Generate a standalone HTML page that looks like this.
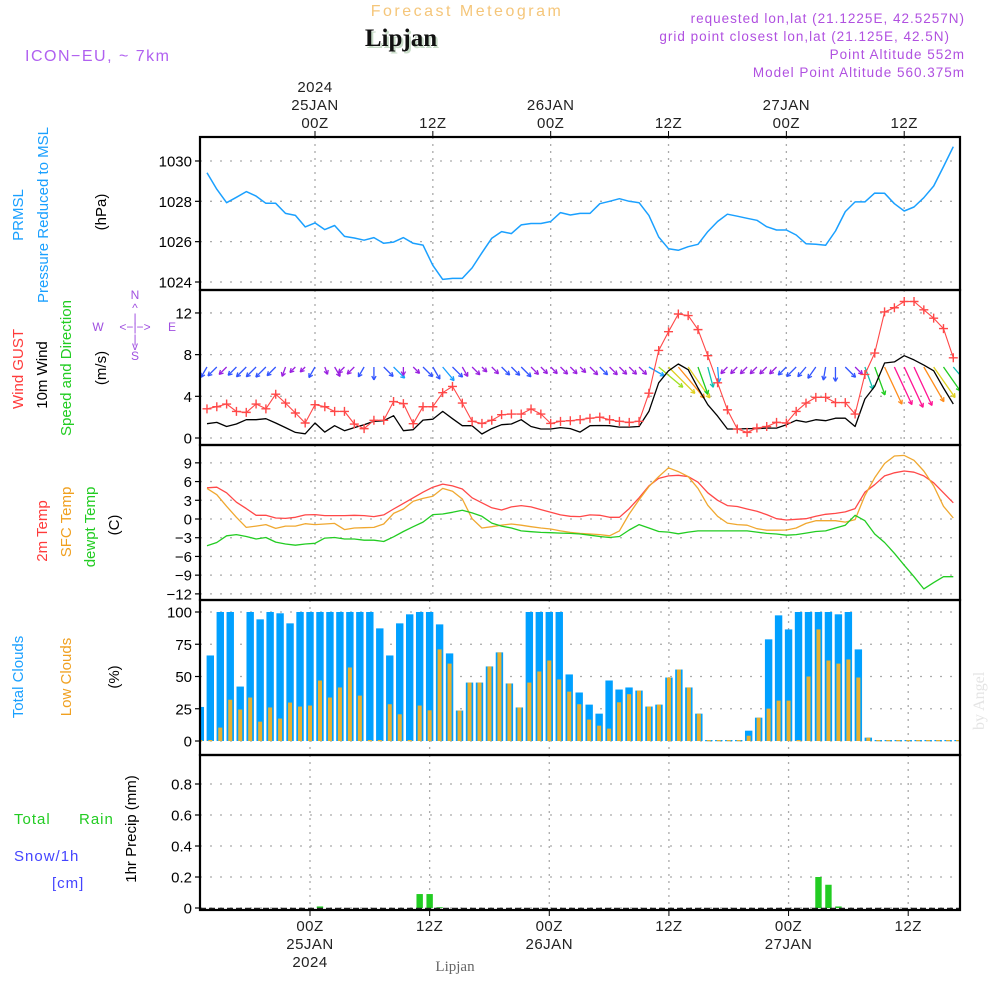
<!DOCTYPE html>
<html><head><meta charset="utf-8"><style>
body{margin:0;background:#fff;}
svg{display:block;font-family:"Liberation Sans",sans-serif;}
</style></head><body>
<svg id="chart" width="1000" height="1000" viewBox="0 0 1000 1000" xmlns="http://www.w3.org/2000/svg">
<defs><clipPath id="plotclip"><rect x="200" y="137" width="760" height="773"/></clipPath></defs>
<rect width="1000" height="1000" fill="#fff"/>
<text x="467" y="16" text-anchor="middle" font-size="16" letter-spacing="2.5" fill="#f5c67a">Forecast Meteogram</text>
<text x="403" y="48" text-anchor="middle" font-family="Liberation Serif,serif" font-weight="bold" font-size="25" fill="#c8dcc8">Lipjan</text>
<text x="401" y="46" text-anchor="middle" font-family="Liberation Serif,serif" font-weight="bold" font-size="25" fill="#111">Lipjan</text>
<text x="25" y="61" font-size="16" letter-spacing="1.5" fill="#b060f0">ICON−EU, ~ 7km</text>
<g font-size="13.5" letter-spacing="1" fill="#b050e0" text-anchor="end">
<text x="965" y="23">requested lon,lat (21.1225E, 42.5257N)</text>
<text x="950" y="41">grid point closest lon,lat (21.125E, 42.5N)</text>
<text x="965" y="59">Point Altitude 552m</text>
<text x="965" y="77">Model Point Altitude 560.375m</text>
</g>
<text transform="translate(984,730) rotate(-90)" font-family="Liberation Serif,serif" font-size="16" fill="#e4e4e4">by Angel</text>
<text x="455" y="971" text-anchor="middle" font-family="Liberation Serif,serif" font-size="15" fill="#666">Lipjan</text>

<g font-size="15">
<text transform="translate(23,215) rotate(-90)" text-anchor="middle" fill="#1aa0ff">PRMSL</text>
<text transform="translate(48,215) rotate(-90)" text-anchor="middle" fill="#1aa0ff">Pressure Reduced to MSL</text>
<text transform="translate(106,212) rotate(-90)" text-anchor="middle" fill="#000">(hPa)</text>
<text transform="translate(23,369) rotate(-90)" text-anchor="middle" fill="#ff3b3b">Wind GUST</text>
<text transform="translate(47,375) rotate(-90)" text-anchor="middle" fill="#000">10m Wind</text>
<text transform="translate(71,368) rotate(-90)" text-anchor="middle" fill="#22cc22">Speed and Direction</text>
<text transform="translate(106,368) rotate(-90)" text-anchor="middle" fill="#000">(m/s)</text>
<g fill="#a050e0" font-size="12" text-anchor="middle">
<text x="135" y="299">N</text><text x="135" y="312">^</text><text x="135" y="322">|</text>
<text x="98" y="331">W</text><text x="135" y="331">&lt;−|−&gt;</text><text x="172" y="331">E</text>
<text x="135" y="343">|</text><text x="135" y="350">v</text><text x="135" y="360">S</text>
</g>
<text transform="translate(47,531) rotate(-90)" text-anchor="middle" fill="#ff3b3b">2m Temp</text>
<text transform="translate(71,522) rotate(-90)" text-anchor="middle" fill="#f0a020">SFC Temp</text>
<text transform="translate(95,527) rotate(-90)" text-anchor="middle" fill="#22cc22">dewpt Temp</text>
<text transform="translate(119,525) rotate(-90)" text-anchor="middle" fill="#000">(C)</text>
<text transform="translate(23,677) rotate(-90)" text-anchor="middle" fill="#1aa0ff">Total Clouds</text>
<text transform="translate(71,677) rotate(-90)" text-anchor="middle" fill="#f0a020">Low Clouds</text>
<text transform="translate(119,677) rotate(-90)" text-anchor="middle" fill="#000">(%)</text>
<text transform="translate(136,829) rotate(-90)" text-anchor="middle" fill="#000">1hr Precip (mm)</text>
<text x="14" y="824" fill="#22cc22" letter-spacing="1">Total</text>
<text x="79" y="824" fill="#22cc22" letter-spacing="1">Rain</text>
<text x="14" y="861" fill="#4444ff" letter-spacing="1">Snow/1h</text>
<text x="52" y="888" fill="#4444ff" letter-spacing="1">[cm]</text>
</g>
<g id="grid"></g>
<g id="marks" clip-path="url(#plotclip)"></g>
<g id="axes"></g>
</svg>
<script>
// hours relative to 00Z 25JAN, from -11 to 65
const hourStart = -11;
const pressure = [1029.42,1028.6,1027.93,1028.2,1028.48,1028.26,1027.9,1027.9,1027.4,1027.3,1026.73,1026.93,1026.6,1026.8,1026.26,1026.18,1026.07,1026.2,1025.92,1025.98,1026.2,1025.92,1025.83,1024.83,1024.13,1024.18,1024.18,1024.7,1025.45,1026.17,1026.5,1026.4,1026.83,1026.9,1026.9,1027.0,1027.44,1027.32,1027.4,1027.4,1027.88,1028.0,1028.13,1028.0,1027.93,1027.3,1026.23,1025.65,1025.57,1025.75,1025.87,1026.5,1027.0,1027.36,1027.26,1027.16,1027.06,1026.74,1026.58,1026.58,1026.33,1025.9,1025.87,1025.82,1026.53,1027.49,1027.97,1027.97,1028.41,1028.4,1027.88,1027.52,1027.72,1028.18,1028.76,1029.72,1030.71];
const gust = [2.8,3.0,3.26,2.55,2.46,3.26,2.8,4.2,3.35,2.4,1.44,3.2,3.0,2.55,2.55,1.34,0.9,1.7,1.7,3.5,3.3,1.37,3.0,3.0,4.35,4.95,3.35,1.6,1.4,1.7,2.24,2.3,2.3,2.78,2.3,1.4,1.6,1.66,1.76,1.9,2.0,1.76,1.6,1.5,1.6,4.3,8.4,10.2,11.9,11.75,10.4,7.9,5.3,2.7,0.86,0.54,0.96,1.1,1.5,1.44,2.55,3.35,3.9,3.9,3.4,3.4,2.3,6.1,8.15,12.1,12.5,13.1,13.1,12.3,11.5,10.5,7.7];
const windSpeed = [1.37,1.5,1.1,1.34,1.76,1.76,1.85,1.44,1.0,0.54,0.4,1.44,0.57,1.18,0.7,1.0,1.28,1.6,1.66,2.14,0.7,0.8,1.72,1.8,2.55,1.85,1.18,1.18,0.38,0.9,1.28,1.34,1.76,1.1,0.86,0.86,1.0,0.9,0.57,1.18,1.2,1.18,1.05,1.05,1.1,2.55,5.3,6.45,7.1,6.55,4.8,3.2,2.1,0.86,0.86,0.9,0.9,0.95,0.95,1.28,1.7,1.53,1.76,1.66,1.9,1.9,1.1,3.74,4.95,7.2,7.3,7.9,7.5,7.0,6.45,4.8,3.26];
const windDir = [210,225,225,225,225,225,225,225,200,225,225, 210,160,150,225,225,210,180,135,135,180,135, 135,150,140,135,150,135,135,135,135,135,135,135,135,135,135,135,135,135,135,135,135,135,135, 120,130,135,140,145,160,165,175, 225,225,225,225,225,225,225,225,220,215,190,180,135, 135,160,160,155,155,155,155,150,145,145,140];
const temp2m = [5.0,5.1,4.2,2.7,1.67,0.6,0.6,0.16,0.1,0.27,0.65,0.7,0.54,0.54,0.54,0.6,0.54,0.38,0.65,1.6,2.5,3.4,4.3,5.1,5.6,5.3,4.8,3.4,2.6,1.8,1.45,1.94,2.15,1.94,1.5,1.07,0.65,0.43,0.38,0.65,0.6,0.27,0.27,1.67,3.4,5.3,6.5,6.9,7.0,6.8,5.9,4.2,3.0,2.15,2.0,1.6,1.24,0.7,0.05,-0.16,-0.05,0.05,0.43,0.75,0.9,1.13,1.67,4.3,5.5,6.9,7.4,7.7,7.5,6.9,5.8,4.2,2.6];
const tempSfc = [4.9,3.9,2.04,0.27,-1.34,-1.13,-0.9,-1.5,-1.13,-1.13,-0.75,-0.9,-0.8,-0.7,-1.7,-1.45,-1.4,-1.34,-0.8,0.9,1.6,2.85,3.3,3.65,4.9,4.46,3.2,0.05,-1.45,-1.24,-0.97,-0.8,-1.0,-1.24,-1.45,-1.6,-1.9,-2.15,-2.3,-2.4,-2.5,-2.7,-1.9,0.8,3.1,5.2,6.8,8.2,7.6,6.8,4.9,2.2,0.43,-0.65,-0.9,-1.0,-1.56,-1.8,-1.8,-1.77,-1.45,-0.7,-0.27,-0.27,-0.27,-0.5,-0.1,3.76,6.6,8.9,10.1,10.2,9.4,7.7,5.3,2.04,0.16];
const dewpoint = [-4.3,-3.76,-2.7,-2.5,-2.8,-3.2,-2.96,-3.7,-4.0,-4.2,-4.0,-3.9,-3.06,-2.96,-3.2,-3.2,-3.4,-3.4,-3.6,-2.85,-2.0,-1.24,-0.5,0.7,0.8,1.07,1.4,0.97,0.43,-0.65,-1.13,-1.45,-1.9,-2.04,-2.15,-2.2,-2.26,-2.3,-2.4,-2.6,-2.8,-2.96,-2.8,-1.77,-0.9,-1.45,-2.0,-2.1,-2.37,-2.1,-1.9,-1.9,-1.9,-1.9,-1.9,-1.9,-2.1,-2.3,-2.4,-2.6,-2.5,-2.26,-2.0,-1.9,-1.45,-1.0,0.6,-0.27,-2.4,-3.76,-5.5,-7.4,-9.25,-11.2,-10.2,-9.25,-9.25];
const totalClouds = [26.4,66.3,100,100,42.2,100,94.3,100,99,91.2,100,100,100,100,100,100,100,100,87.3,66.3,91.2,98.2,100,100,90.4,67.9,23.6,45.3,45.3,57.8,68.7,44.6,26,100,100,100,100,51.6,37.6,28.2,21.2,46.9,39.9,41.5,39.1,26.7,28.2,49.2,55.4,41.5,21.2,0,0,0,0,8,18.1,78.8,97.4,86.5,100,100,100,100,98.2,100,71,2.6,0,0,0,0,0,0,0,0,0];
const lowClouds = [0,0,10.4,32,24.4,33.7,15,26,17.4,29.8,26.7,27.5,46.9,33.7,41.5,57,35.2,0,0,28.5,20.7,0,27.5,23.8,71,60,23.6,45.3,45.3,57.8,68.7,44.6,26,45.3,53.9,62.4,47.7,38.3,28.5,16.6,11.9,9.6,30,36.3,39.1,26.7,28.2,49.2,55.4,41.5,21.2,0,0,0,0,4.1,18.1,25.1,31.3,31.3,0.5,50,86.5,62.4,60,63.2,49.2,2.6,0,0,0,0,0,0,0,0,0];
const precip = [0,0,0,0,0,0,0,0,0,0,0,0,0.01,0,0,0,0,0,0,0,0,0,0.09,0.09,0.005,0,0,0,0,0,0,0,0,0,0,0,0,0,0,0,0,0,0,0,0,0,0,0,0,0,0,0,0,0,0,0,0,0,0,0,0,0,0.2,0.15,0.01,0,0,0,0,0,0,0,0,0,0,0,0];
const pressTicks = [1024,1026,1028,1030];
const windTicks = [0,4,8,12];
const tempTicks = [-12,-9,-6,-3,0,3,6,9];
const cloudTicks = [0,25,50,75,100];
const precipTicks = [0,0.2,0.4,0.6,0.8];
const topTimeLabels = [[0,"2024","25JAN","00Z"],[12,"","","12Z"],[24,"","26JAN","00Z"],[36,"","","12Z"],[48,"","27JAN","00Z"],[60,"","","12Z"]];
const botTimeLabels = [[0,"00Z","25JAN","2024"],[12,"12Z","",""],[24,"00Z","26JAN",""],[36,"12Z","",""],[48,"00Z","27JAN",""],[60,"12Z","",""]];

const NS="http://www.w3.org/2000/svg";
function mk(parent,tag,attrs){const e=document.createElementNS(NS,tag);for(const k in attrs)e.setAttribute(k,attrs[k]);parent.appendChild(e);return e;}
const grid=document.getElementById('grid'),marks=document.getElementById('marks'),axes=document.getElementById('axes');
const L=200,R=960;
const xA=h=>315+h*9.82;   // upper panels
const xB=h=>310+h*9.97;   // cloud & precip panels
const yP=v=>282-(v-1024)*20.17;
const yW=v=>438-v*10.42;
const yT=v=>519-v*6.24;
const yC=v=>741-v*1.29;
const yR=v=>908-v*155;
const panels=[{top:137,bot:290,ticks:pressTicks,y:yP,x:xA,fmt:v=>v,name:'pressure'},
{top:290,bot:445,ticks:windTicks,y:yW,x:xA,fmt:v=>v,name:'wind'},
{top:445,bot:600,ticks:tempTicks,y:yT,x:xA,fmt:v=>v<0?'−'+(-v):v,name:'temperature'},
{top:600,bot:755,ticks:cloudTicks,y:yC,x:xB,fmt:v=>v,name:'clouds'},
{top:755,bot:910,ticks:precipTicks,y:yR,x:xB,fmt:v=>v===0?'0':v.toFixed(1),name:'precip'}];
panels.forEach(p=>{
  p.ticks.forEach(t=>{
    const y=p.y(t);
    const gl=mk(grid,'line',{x1:L,x2:R,y1:y,y2:y,stroke:'#aaa','stroke-width':1.3,'stroke-dasharray':'2,8'});
    
    
    mk(axes,'line',{x1:L-5,x2:L,y1:y,y2:y,stroke:'#000','stroke-width':1.2});
    const tx=mk(axes,'text',{x:L-8,y:y+5.5,'text-anchor':'end','font-size':15,fill:'#000'});
    tx.textContent=p.fmt(t);
    
    
  });
  for(let h=0;h<=60;h+=12){
    const x=p.x(h);
    const vl=mk(grid,'line',{x1:x,x2:x,y1:p.top,y2:p.bot,stroke:'#aaa','stroke-width':1.3,'stroke-dasharray':'2,5'});
    
    
  }
  const fr=mk(axes,'rect',{x:L,y:p.top,width:R-L,height:p.bot-p.top,fill:'none',stroke:'#000','stroke-width':2.2});
  
  
});
topTimeLabels.forEach(l=>{
  const x=xA(l[0]);
  mk(axes,'line',{x1:x,x2:x,y1:131,y2:137,stroke:'#000'});
  [[1,92],[2,110],[3,128]].forEach(([i,y])=>{if(l[i]){const t=mk(axes,'text',{x:x,y:y,'text-anchor':'middle','font-size':15,'letter-spacing':0.5,fill:'#222'});t.textContent=l[i];
  
  }});
});
botTimeLabels.forEach(l=>{
  const x=xB(l[0]);
  mk(axes,'line',{x1:x,x2:x,y1:910,y2:916,stroke:'#000'});
  [[1,931],[2,949],[3,967]].forEach(([i,y])=>{if(l[i]){const t=mk(axes,'text',{x:x,y:y,'text-anchor':'middle','font-size':15,'letter-spacing':0.5,fill:'#222'});t.textContent=l[i];
  
  }});
});
function line(arr,xf,yf,color,name,w){
  const pts=arr.map((v,i)=>xf(hourStart+i).toFixed(1)+','+yf(v).toFixed(1)).join(' ');
  const pl=mk(marks,'polyline',{points:pts,fill:'none',stroke:color,'stroke-width':w||1.3,'stroke-linejoin':'round'});
  
  
}
line(pressure,xA,yP,'#1aa0ff','pressure-line',1.5);
totalClouds.forEach((v,i)=>{
  const x=xB(hourStart+i);const y=yC(v);
  const b=mk(marks,'rect',{x:x-3.7,y:Math.min(y,740),width:7.4,height:Math.max(741-y,1.2),fill:'#00a0ff'});
  
  
});
lowClouds.forEach((v,i)=>{
  const x=xB(hourStart+i);const y=yC(v);
  const b=mk(marks,'rect',{x:x-2,y:Math.min(y,740),width:4,height:Math.max(741-y,1.2),fill:'#e8b030'});
  
  
});
precip.forEach((v,i)=>{
  if(v<=0)return;
  const x=xB(hourStart+i);const y=yR(v);
  const b=mk(marks,'rect',{x:x-3.2,y:y,width:6.4,height:908-y,fill:'#22cc22'});
  
  
});
mk(marks,'line',{x1:L,x2:R,y1:908.5,y2:908.5,stroke:'#222','stroke-width':1.6,'stroke-dasharray':'6,3'});
line(temp2m,xA,yT,'#ff4848','temp-2m-line');
line(tempSfc,xA,yT,'#f0a830','temp-sfc-line');
line(dewpoint,xA,yT,'#22cc22','dewpoint-line');
function arrowColor(s){
  if(s<1.2)return '#9a20e0';if(s<2)return '#3355ff';if(s<3)return '#1aa0ff';if(s<4)return '#10c0b0';
  if(s<5)return '#20cc20';if(s<6)return '#a0e020';if(s<6.8)return '#e0d020';if(s<7.3)return '#ff8c1a';return '#ff1493';
}
windDir.forEach((d,i)=>{
  const s=windSpeed[i];const x0=xA(hourStart+i);const y0=367;
  const len=5+s*5;const a=d*Math.PI/180;
  const dx=Math.sin(a),dy=-Math.cos(a);
  const x1=x0+dx*len,y1=y0+dy*len;
  const c=arrowColor(s);
  const g=mk(marks,'g',{stroke:c,'stroke-width':1.3,fill:'none'});
  
  
  mk(g,'line',{x1:x0,y1:y0,x2:x1,y2:y1});
  const hl=4.5;
  [0.5,-0.5].forEach(o=>{const b=a+Math.PI+o;mk(g,'line',{x1:x1,y1:y1,x2:x1+Math.sin(b)*hl,y2:y1-Math.cos(b)*hl});});
});
line(windSpeed,xA,yW,'#000','wind-speed-line',1.3);
line(gust,xA,yW,'#ff4848','wind-gust-line',1.1);
gust.forEach((v,i)=>{
  const x=xA(hourStart+i),y=yW(v);
  const p=mk(marks,'path',{d:`M${x-4.5},${y}h9M${x},${y-4.5}v9`,stroke:'#ff4848','stroke-width':1.4});
  
  
});
</script>
</body></html>
